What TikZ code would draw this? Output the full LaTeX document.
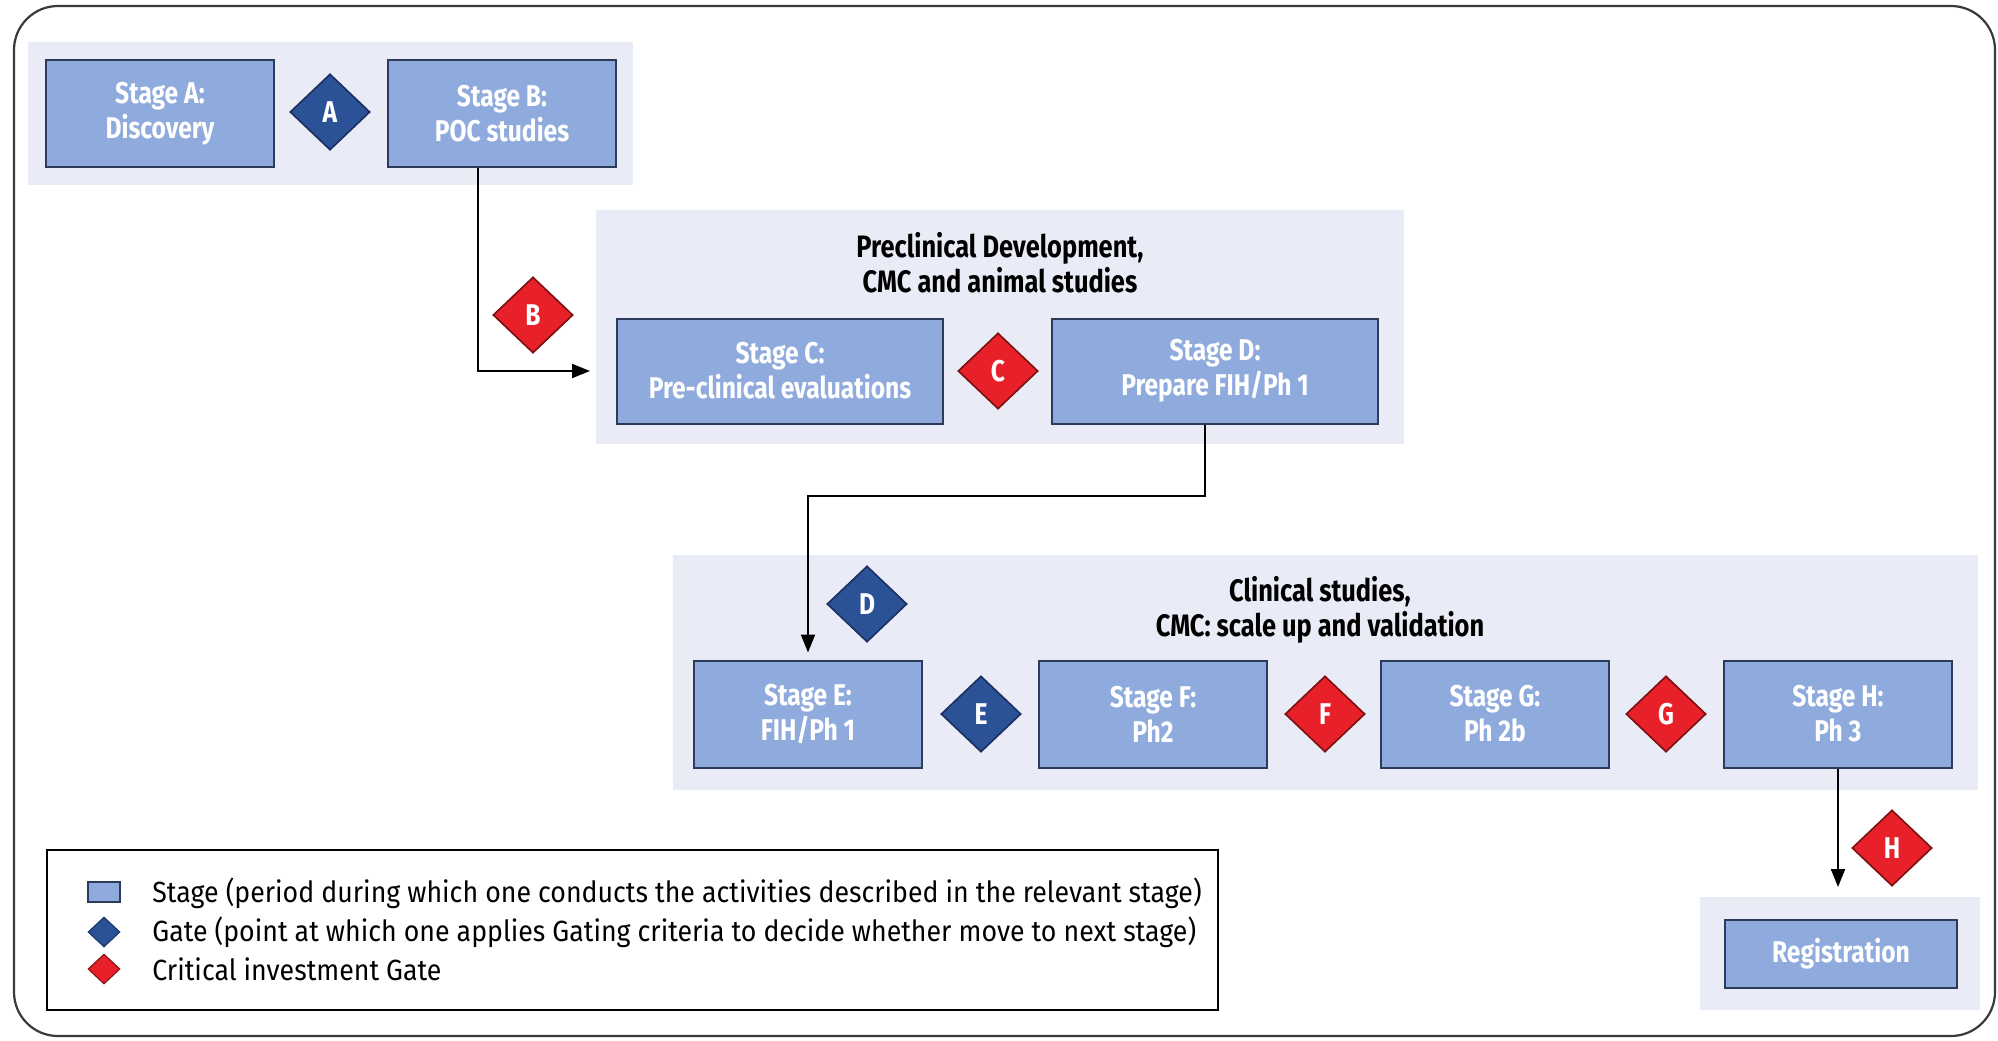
\documentclass[tikz,border=0pt]{standalone}
\usepackage{fontspec}
\usetikzlibrary{shapes.geometric,arrows.meta}
\newfontfamily\cond[FakeStretch=0.82]{Fira Sans}
\newfontfamily\condleg[FakeStretch=0.915]{Fira Sans}

\definecolor{stagefill}{HTML}{8FAADC}
\definecolor{stageline}{HTML}{2E3A59}
\definecolor{panelfill}{HTML}{E9ECF6}
\definecolor{gateblue}{HTML}{2B5197}
\definecolor{gatebluedk}{HTML}{1B2F5E}
\definecolor{gatered}{HTML}{E8202A}
\definecolor{gatereddk}{HTML}{7A1010}
\definecolor{framecol}{HTML}{3A3A3A}

\tikzset{
  stagebox/.style={draw=stageline, fill=stagefill, line width=1pt,
    minimum width=114pt, minimum height=53.5pt, inner sep=0pt,
    align=center, text=white, font=\cond\bfseries\fontsize{15}{17.5}\selectfont},
  widebox/.style={stagebox, minimum width=163pt, minimum height=52.5pt},
  gatebase/.style={diamond, line width=0.8pt, minimum width=40pt, minimum height=38pt,
    inner sep=0pt, text=white, font=\cond\bfseries\fontsize{15}{17}\selectfont},
  bluegate/.style={gatebase, draw=gatebluedk, fill=gateblue},
  redgate/.style={gatebase, draw=gatereddk, fill=gatered},
  paneltitle/.style={align=center, text=black, font=\cond\bfseries\fontsize{15.5}{17.5}\selectfont},
  conn/.style={draw=black, line width=1pt, -{Triangle[length=9pt,width=7pt]}},
  legtext/.style={anchor=west, inner sep=0pt, font=\condleg\fontsize{14.6}{16}\selectfont},
  legsquare/.style={draw=stageline, fill=stagefill, line width=0.6pt,
    minimum width=16pt, minimum height=10pt, inner sep=0pt},
  legdiamond/.style={diamond, line width=0.5pt, minimum width=16pt, minimum height=15pt, inner sep=0pt},
}

\begin{document}
\begin{tikzpicture}[x=0.5pt,y=-0.5pt]
\useasboundingbox (0,0) rectangle (1998,1040);

% outer frame
\draw[framecol, line width=1.1pt, rounded corners=22pt] (14,6) rectangle (1995,1036);

% background panels
\fill[panelfill] (28,42) rectangle (633,185);
\fill[panelfill] (596,210) rectangle (1404,444);
\fill[panelfill] (673,555) rectangle (1978,790);
\fill[panelfill] (1700,897) rectangle (1980,1010);

% discovery and proof of concept
\node[stagebox] (sA) at (160,113.5) {Stage A:\\Discovery};
\node[stagebox] (sB) at (502,113.5) {Stage B:\\POC studies};
\node[bluegate] (gA) at (330,112) {A};

% preclinical development
\node[paneltitle] (t2) at (1000,263) {Preclinical Development,\\CMC and animal studies};
\node[widebox] (sC) at (780,371) {Stage C:\\Pre-clinical evaluations};
\node[widebox] (sD) at (1215,371) {Stage D:\\Prepare FIH/Ph 1};
\node[redgate] (gB) at (533,315) {B};
\node[redgate] (gC) at (998,371) {C};

% clinical studies
\node[paneltitle] (t3) at (1320,610) {Clinical studies,\\CMC: scale up and validation};
\node[stagebox] (sE) at (808,714) {Stage E:\\FIH/Ph 1};
\node[stagebox] (sF) at (1153,714) {Stage F:\\Ph2};
\node[stagebox] (sG) at (1495,714) {Stage G:\\Ph 2b};
\node[stagebox] (sH) at (1838,714) {Stage H:\\Ph 3};
\node[bluegate] (gD) at (867,604) {D};
\node[bluegate] (gE) at (981,714) {E};
\node[redgate] (gF) at (1325,714) {F};
\node[redgate] (gG) at (1666,714) {G};
\node[redgate] (gH) at (1892,848) {H};

% registration
\node[stagebox, minimum width=116pt, minimum height=34pt] (reg) at (1841,954) {Registration};

% connectors
\coordinate (bk) at (478,371);
\coordinate (cin) at (590,371);
\draw[conn] (sB.south -| bk) -- (bk) -- (cin);
\coordinate (dk) at (1205,496);
\draw[conn, shorten >=3.5pt] (sD.south -| dk) -- (dk) -| (sE.north);
\draw[conn, shorten >=16pt] (sH.south) -- (sH.south |- reg.north);

% legend
\draw[black, line width=0.7pt] (47,850) rectangle (1218,1010);
\draw[black, line width=1.4pt] (47,850) -- (1218,850);
\draw[black, line width=1.4pt] (47,1010) -- (1218,1010);
\node[legsquare] (lS) at (104,892) {};
\node[legdiamond, draw=gatebluedk, fill=gateblue] (lG) at (104,932) {};
\node[legdiamond, draw=gatereddk, fill=gatered] (lC) at (104,969) {};
\node[legtext] (tS) at (152,893) {Stage (period during which one conducts the activities described in the relevant stage)};
\node[legtext] (tG) at (152,932) {Gate (point at which one applies Gating criteria to decide whether move to next stage)};
\node[legtext] (tC) at (152,969) {Critical investment Gate};
\end{tikzpicture}
\end{document}
